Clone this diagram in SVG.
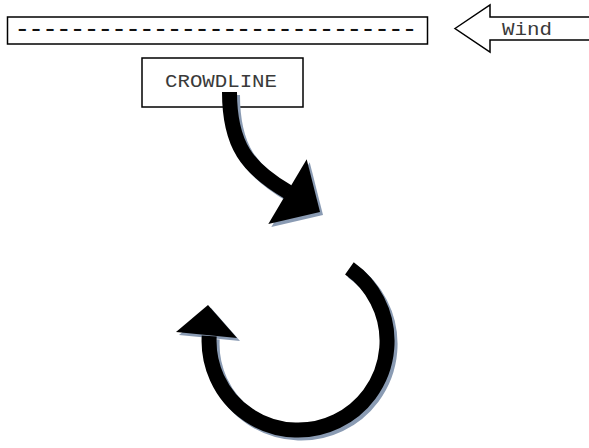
<svg xmlns="http://www.w3.org/2000/svg" width="589" height="448" viewBox="0 0 589 448">
<style>
.box{fill:#fff;stroke:#000;stroke-width:1.5}
.lbl{font-family:"Liberation Mono","Courier New",monospace;font-size:18px;fill:#3a3a3a}
.dash{font-family:"Liberation Mono","Courier New",monospace;font-size:26px;fill:#111;letter-spacing:-1.77px}
.shaft{fill:none;stroke:#000;stroke-width:15;stroke-linecap:butt}
.shadow .shaft{stroke:#8A9BB3}
.shadow .head{fill:#8A9BB3}
.head{fill:#000}
</style>
<rect width="589" height="448" fill="#fff"/>
<g id="runway">
<rect class="box" x="7.5" y="17" width="420" height="27"/>
<text class="dash" x="14.5" y="37">-----------------------------</text>
</g>
<g id="wind">
<polygon points="455,28.5 490,5 490,17 592,17 592,40 490,40 490,52" fill="#fff" stroke="#000" stroke-width="1.5"/>
<text class="lbl" x="502" y="35" textLength="50" lengthAdjust="spacingAndGlyphs">Wind</text>
</g>
<g id="crowdline">
<rect class="box" x="142" y="58" width="161" height="49"/>
<text class="lbl" x="165" y="86.5" textLength="112" lengthAdjust="spacingAndGlyphs">CROWDLINE</text>
</g>
<g id="connectors">
<g class="shadow" transform="translate(3,3)">
<path class="shaft" d="M229.5,92 C229.5,145 247,168 288,192"/>
<polygon class="head" points="306.7,159.3 320,212 268.3,224"/>
<path class="shaft" d="M349.4,268.4 A89,89 0 1 1 209.2,336"/>
<polygon class="head" points="208,305 237,338 176,332"/>
</g>
<path class="shaft" d="M229.5,92 C229.5,145 247,168 288,192"/>
<polygon class="head" points="306.7,159.3 320,212 268.3,224"/>
<path class="shaft" d="M349.4,268.4 A89,89 0 1 1 209.2,336"/>
<polygon class="head" points="208,305 237,338 176,332"/>
</g>
</svg>
